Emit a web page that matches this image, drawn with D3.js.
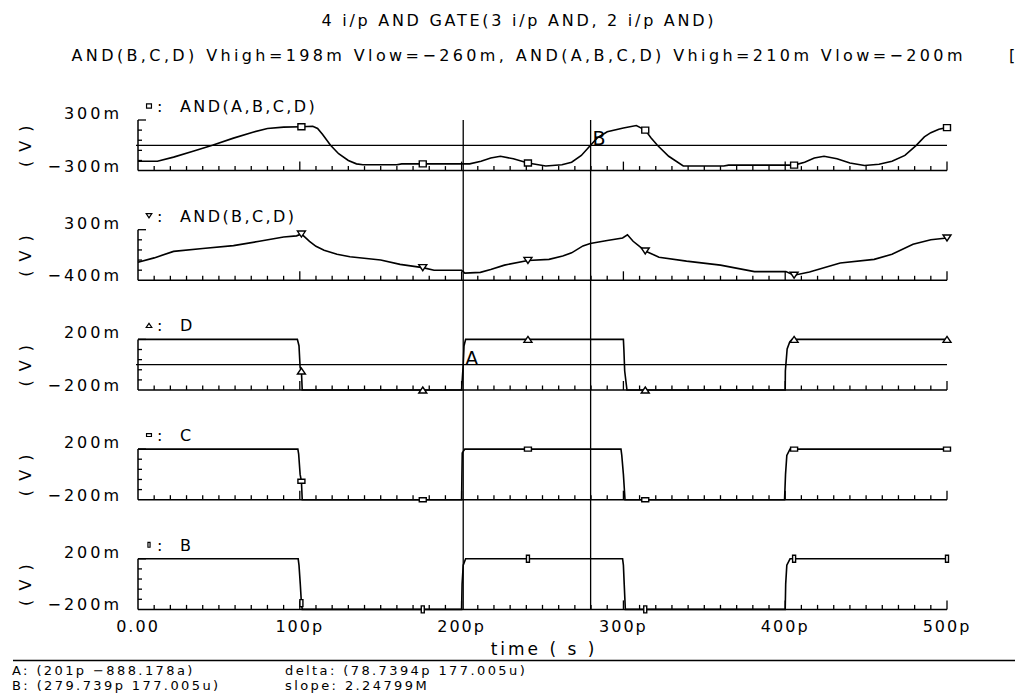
<!DOCTYPE html>
<html>
<head>
<meta charset="utf-8">
<script src="https://cdn.jsdelivr.net/npm/d3@7"></script>
<style>
  html, body { margin: 0; padding: 0; background: #fff; }
  svg { display: block; }
  text { font-family: "DejaVu Sans", sans-serif; fill: #000; }
</style>
</head>
<body>
<div id="chart"></div>
<script>
(function() {
  'use strict';

  // time axis (ps)
  var tickTimes = [0, 100, 200, 300, 400, 500];
  var tickLabels = ['0.00', '100p', '200p', '300p', '400p', '500p'];

  // panels, top to bottom
  var panelNames = ['AND(A,B,C,D)', 'AND(B,C,D)', 'D', 'C', 'B'];
  var panelLow = [-0.3, -0.4, -0.2, -0.2, -0.2];
  var panelHigh = [0.3, 0.3, 0.2, 0.2, 0.2];
  var lowLabels = ['\u2212300m', '\u2212400m', '\u2212200m', '\u2212200m', '\u2212200m'];
  var highLabels = ['300m', '300m', '200m', '200m', '200m'];
  var markerKinds = ['square', 'triDown', 'triUp', 'flat', 'tall'];

  // [time ps, volts]
  var andABCD = [[0, -0.19], [12, -0.19], [22, -0.14], [34, -0.07], [46, 0.0], [59, 0.085],
    [71, 0.155], [80, 0.2], [90, 0.215], [101, 0.22], [108, 0.225], [111, 0.2], [114, 0.13],
    [119, 0.0], [124, -0.1], [130, -0.18], [135, -0.22], [139, -0.23], [160, -0.23],
    [163, -0.22], [176, -0.22], [205, -0.22], [212, -0.19], [218, -0.15], [224, -0.13],
    [232, -0.16], [241, -0.21], [252, -0.245], [262, -0.23], [268, -0.2], [274, -0.12],
    [279.7, 0.0], [284, 0.09], [290, 0.16], [300, 0.205], [308, 0.235], [313.5, 0.18],
    [317, 0.09], [321, 0.0], [328, -0.13], [337, -0.245], [362, -0.245], [365, -0.235],
    [405.5, -0.235], [412, -0.2], [418, -0.15], [424, -0.13], [432, -0.16], [440, -0.21],
    [449, -0.24], [458, -0.225], [466, -0.19], [474, -0.12], [481, 0.0], [486, 0.1],
    [490, 0.15], [495, 0.19], [500, 0.21]];
  var andBCD = [[0, -0.15], [10, -0.09], [22, 0.0], [40, 0.04], [59, 0.08], [75, 0.14],
    [90, 0.2], [98, 0.215], [101, 0.24], [103, 0.2], [106, 0.14], [110, 0.07], [115, 0.016],
    [123, -0.04], [131, -0.075], [150, -0.12], [162, -0.18], [176, -0.225], [183, -0.26],
    [200, -0.26], [202, -0.3], [211.6, -0.29], [218, -0.25], [226.5, -0.19], [241, -0.125],
    [254, -0.11], [262.5, -0.065], [268, -0.02], [275, 0.076], [279.5, 0.11], [290, 0.15],
    [299.5, 0.185], [302.5, 0.23], [306, 0.14], [313.5, 0.006], [322, -0.08], [339, -0.135],
    [360, -0.19], [381, -0.28], [400.4, -0.28], [405.5, -0.33], [415, -0.285], [425, -0.22],
    [434, -0.16], [455, -0.11], [466, -0.04], [479, 0.1], [490, 0.16], [500, 0.185]];
  var sigD = [[0, 0.2], [98.5, 0.2], [99.5, 0.15], [100.2, -0.02], [101, -0.05], [101.5, -0.2],
    [176, -0.2], [200, -0.2], [200.5, -0.1], [201, 0], [201.5, 0.15], [202.5, 0.2], [241, 0.2],
    [300, 0.2], [300.3, 0.12], [300.8, -0.05], [302.2, -0.2], [313.5, -0.2], [400, -0.2],
    [400.1, -0.05], [401.2, 0.125], [402.8, 0.18], [404.3, 0.2], [405.5, 0.2], [500, 0.2]];
  var sigC = [[0, 0.2], [98.8, 0.2], [99.3, 0.16], [100.2, 0.0], [101, -0.054], [101.5, -0.2],
    [176, -0.2], [200, -0.2], [200.2, 0.0], [200.4, 0.17], [202, 0.2], [241, 0.2], [298.5, 0.2],
    [299, 0.15], [300, 0.0], [301, -0.2], [313.5, -0.2], [399.6, -0.2], [400.2, 0.0],
    [401, 0.15], [403, 0.2], [405.5, 0.2], [500, 0.2]];
  var sigB = [[0, 0.2], [99, 0.2], [99.5, 0.15], [100.3, 0.0], [101, -0.15], [101.5, -0.2],
    [176, -0.2], [200, -0.2], [200.3, 0.0], [201, 0.15], [202.5, 0.2], [241, 0.2], [299.5, 0.2],
    [300, 0.15], [300.5, 0.0], [301.2, -0.2], [313.5, -0.2], [400, -0.2], [400.3, 0.0],
    [401, 0.15], [403, 0.2], [405.5, 0.2], [500, 0.2]];
  var series = [andABCD, andBCD, sigD, sigC, sigB];
  var markerTimes = [101, 176, 241, 313.5, 405.5, 500];

  // cursors
  var cursorA = {t: 201, v: -888.178e-18, panel: 2, name: 'A'};
  var cursorB = {t: 279.739, v: 177.005e-6, panel: 0, name: 'B'};

  var titleText = '4 i/p AND GATE(3 i/p AND, 2 i/p AND)';
  var subtitleText = 'AND(B,C,D) Vhigh=198m Vlow=\u2212260m, AND(A,B,C,D) Vhigh=210m Vlow=\u2212200m';
  var readoutLeft = ['A: (201p \u2212888.178a)', 'B: (279.739p 177.005u)'];
  var readoutRight = ['delta: (78.7394p 177.005u)', 'slope: 2.24799M'];

  var width = 1015, height = 698;
  var panelTop = 120, panelStep = 109.7, panelH = 50.6;

  var svg = d3.select('#chart')
      .append('svg')
    .attr('width', width)
    .attr('height', height);

  svg.append('rect')
    .attr('width', width)
    .attr('height', height)
    .attr('fill', '#fff');

  var x = d3.scaleLinear().domain([0, 500]).range([138, 947]);

  function symbolPath(kind, s) {
    var p = d3.path();
    if (kind === 'square') { p.rect(-3.5 * s, -3 * s, 7 * s, 6 * s); }
    if (kind === 'flat') { p.rect(-3.5 * s, -2 * s, 7 * s, 4 * s); }
    if (kind === 'tall') { p.rect(-1.5 * s, -3.5 * s, 3 * s, 7 * s); }
    if (kind === 'triDown') {
      p.moveTo(-4 * s, -3 * s); p.lineTo(4 * s, -3 * s); p.lineTo(0, 3 * s); p.closePath();
    }
    if (kind === 'triUp') {
      p.moveTo(0, -3 * s); p.lineTo(4 * s, 3 * s); p.lineTo(-4 * s, 3 * s); p.closePath();
    }
    return p.toString();
  }

  // title
  svg.append('text')
    .attr('x', 517.5)
    .attr('y', 26)
    .attr('text-anchor', 'middle')
    .attr('textLength', 392)
    .attr('lengthAdjust', 'spacing')
    .style('font-size', '16px')
    .text(titleText);
  svg.append('text')
    .attr('x', 517)
    .attr('y', 61)
    .attr('text-anchor', 'middle')
    .attr('textLength', 891)
    .attr('lengthAdjust', 'spacing')
    .style('font-size', '16px')
    .text(subtitleText);
  svg.append('text')
    .attr('x', 1009)
    .attr('y', 61)
    .style('font-size', '16px')
    .text('[');

  var scales = [];
  series.forEach(function(data, i) {
    var top = panelTop + i * panelStep;
    var bottom = top + panelH;
    var y = d3.scaleLinear().domain([panelLow[i], panelHigh[i]]).range([bottom, top]);
    scales.push(y);
    var g = svg.append('g');

    // y axis
    g.append('line')
      .attr('x1', x(0)).attr('x2', x(0))
      .attr('y1', top).attr('y2', bottom)
      .attr('stroke', '#000').attr('stroke-width', 1.5);
    var yTicks = d3.range(1, 6).map(function(k) {
      return panelLow[i] + k * (panelHigh[i] - panelLow[i]) / 5;
    });
    g.selectAll('.ytick')
        .data(yTicks)
      .enter().append('line')
      .attr('x1', x(0))
      .attr('x2', function(d, k) { return x(0) + (k === 4 ? 8 : 4); })
      .attr('y1', function(d) { return y(d); })
      .attr('y2', function(d) { return y(d); })
      .attr('stroke', '#000').attr('stroke-width', 1.3);

    // x axis
    g.append('line')
      .attr('x1', x(0)).attr('x2', x(500))
      .attr('y1', bottom).attr('y2', bottom)
      .attr('stroke', '#000').attr('stroke-width', 1.5);
    g.selectAll('.xtick')
        .data(d3.range(10, 501, 10))
      .enter().append('line')
      .attr('x1', function(d) { return x(d); })
      .attr('x2', function(d) { return x(d); })
      .attr('y1', bottom)
      .attr('y2', function(d) { return bottom - (d % 100 === 0 ? 9 : 4.5); })
      .attr('stroke', '#000').attr('stroke-width', 1.3);

    // axis labels
    g.append('text')
      .attr('x', 122).attr('y', top - 1)
      .attr('text-anchor', 'end')
      .style('font-size', '16px')
      .style('letter-spacing', '3px')
      .text(highLabels[i]);
    g.append('text')
      .attr('x', 122).attr('y', bottom + 1)
      .attr('text-anchor', 'end')
      .style('font-size', '16px')
      .style('letter-spacing', '3px')
      .text(lowLabels[i]);
    g.append('text')
      .attr('transform', 'translate(25,' + ((top + bottom) / 2) + ') rotate(-90)')
      .attr('text-anchor', 'middle')
      .attr('dominant-baseline', 'central')
      .style('font-size', '16px')
      .style('letter-spacing', '2px')
      .text('( V )');

    // legend
    g.append('path')
      .attr('d', symbolPath(markerKinds[i], 0.7))
      .attr('transform', 'translate(149,' + (top - 14) + ')')
      .attr('fill', 'none').attr('stroke', '#000').attr('stroke-width', 1.2);
    g.append('text')
      .attr('x', 157).attr('y', top - 8)
      .style('font-size', '16px')
      .text(':');
    g.append('text')
      .attr('x', 180).attr('y', top - 8)
      .style('font-size', '16px')
      .style('letter-spacing', '2.4px')
      .text(panelNames[i]);

    // trace
    var line = d3.line()
      .x(function(d) { return x(d[0]); })
      .y(function(d) { return y(d[1]); });
    g.append('path')
      .datum(data)
      .attr('d', line)
      .attr('fill', 'none')
      .attr('stroke', '#000')
      .attr('stroke-width', 1.6);

    g.selectAll('.marker')
        .data(data.filter(function(d) { return markerTimes.indexOf(d[0]) >= 0; }))
      .enter().append('path')
      .attr('d', symbolPath(markerKinds[i], 1))
      .attr('transform', function(d) { return 'translate(' + x(d[0]) + ',' + y(d[1]) + ')'; })
      .attr('fill', '#fff')
      .attr('stroke', '#000')
      .attr('stroke-width', 1.4);
  });

  // cursors
  var cursorTop = panelTop;
  var cursorBottom = panelTop + 4 * panelStep + panelH;
  [cursorA, cursorB].forEach(function(c) {
    var y = scales[c.panel];
    svg.append('line')
      .attr('x1', x(c.t)).attr('x2', x(c.t))
      .attr('y1', cursorTop).attr('y2', cursorBottom)
      .attr('stroke', '#000').attr('stroke-width', 1.3);
    svg.append('line')
      .attr('x1', x(0) - 2).attr('x2', x(500))
      .attr('y1', y(c.v)).attr('y2', y(c.v))
      .attr('stroke', '#000').attr('stroke-width', 1.3);
    svg.append('text')
      .attr('x', x(c.t) + 2)
      .attr('y', y(c.v))
      .style('font-size', '19px')
      .text(c.name);
  });

  // time axis labels
  var lastBottom = panelTop + 4 * panelStep + panelH;
  svg.selectAll('.tlabel')
      .data(tickTimes)
    .enter().append('text')
    .attr('x', function(d) { return x(d); })
    .attr('y', lastBottom + 23)
    .attr('text-anchor', 'middle')
    .style('font-size', '16px')
    .style('letter-spacing', '2px')
    .text(function(d, k) { return tickLabels[k]; });
  svg.append('text')
    .attr('x', 544)
    .attr('y', 655)
    .attr('text-anchor', 'middle')
    .style('font-size', '17px')
    .style('letter-spacing', '3px')
    .text('time ( s )');

  // cursor readout
  svg.append('line')
    .attr('x1', 13).attr('x2', width)
    .attr('y1', 660.5).attr('y2', 660.5)
    .attr('stroke', '#000').attr('stroke-width', 1.3);
  readoutLeft.forEach(function(s, k) {
    svg.append('text')
      .attr('x', 12).attr('y', 674.5 + k * 15.5)
      .style('font-size', '13px')
      .style('letter-spacing', '2.4px')
      .text(s);
  });
  readoutRight.forEach(function(s, k) {
    svg.append('text')
      .attr('x', 285).attr('y', 674.5 + k * 15.5)
      .style('font-size', '13px')
      .style('letter-spacing', '2.4px')
      .text(s);
  });
})();
</script>
</body>
</html>
